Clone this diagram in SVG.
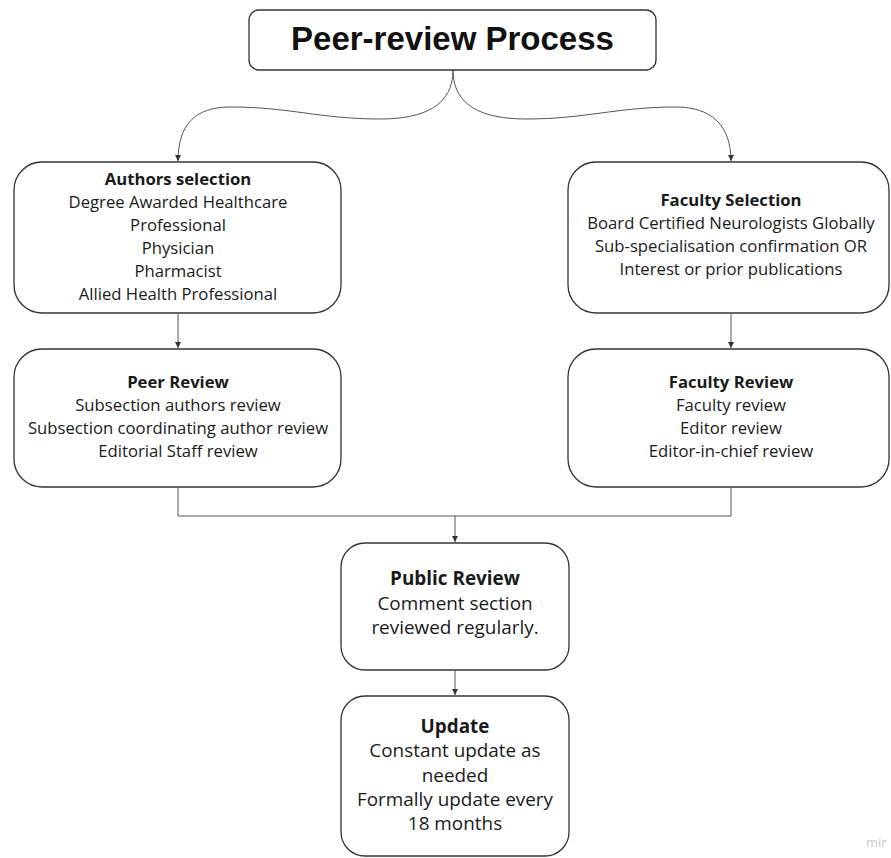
<svg xmlns="http://www.w3.org/2000/svg" width="891" height="858" viewBox="0 0 891 858">
<style>
.box{fill:#fff;stroke:#333;stroke-width:1.3}
.con{fill:none;stroke:#555;stroke-width:1}
.t{font-family:"Open Sans","Liberation Sans",sans-serif;font-size:16.7px;fill:#1a1a1a;text-anchor:middle}
.t2{font-family:"Open Sans","Liberation Sans",sans-serif;font-size:18.9px;fill:#1a1a1a;text-anchor:middle}
.b{font-weight:bold}
.title{font-family:"Liberation Sans",Arial,sans-serif;font-size:33px;font-weight:bold;fill:#111;text-anchor:middle}
</style>
<defs>
<marker id="arr" markerWidth="6" markerHeight="6" refX="6" refY="3" orient="auto" markerUnits="userSpaceOnUse">
<path d="M0,0 L6,3 L0,6 z" fill="#333"/>
</marker>
</defs>
<rect width="891" height="858" fill="#fff"/>
<g id="connectors">
<path class="con" d="M453,70 C453,105 425,119 380,119 C320,119 290,107 230,107 C195,107 178,125 178,161" marker-end="url(#arr)"/>
<path class="con" d="M453,70 C453,105 481,119 526,119 C586,119 616,107 676,107 C711,107 731,125 731,161" marker-end="url(#arr)"/>
<path class="con" d="M178,314 L178,348" marker-end="url(#arr)"/>
<path class="con" d="M731,314 L731,348" marker-end="url(#arr)"/>
<path class="con" d="M178,488 L178,516 L731,516 L731,488"/>
<path class="con" d="M455,516 L455,542" marker-end="url(#arr)"/>
<path class="con" d="M455,671 L455,695" marker-end="url(#arr)"/>
</g>
<g id="title">
<rect class="box" x="249" y="10" width="407" height="60" rx="10"/>
<text class="title" x="452.5" y="50">Peer-review Process</text>
</g>
<g id="authors-selection">
<rect class="box" x="14" y="162" width="327" height="151" rx="28"/>
<text class="t" x="178" y="185"><tspan class="b">Authors selection</tspan><tspan x="178" dy="23">Degree Awarded Healthcare</tspan><tspan x="178" dy="23">Professional</tspan><tspan x="178" dy="23">Physician</tspan><tspan x="178" dy="23">Pharmacist</tspan><tspan x="178" dy="23">Allied Health Professional</tspan></text>
</g>
<g id="faculty-selection">
<rect class="box" x="568" y="162" width="321" height="151" rx="28"/>
<text class="t" x="731" y="206"><tspan class="b">Faculty Selection</tspan><tspan x="731" dy="23">Board Certified Neurologists Globally</tspan><tspan x="731" dy="23">Sub-specialisation confirmation OR</tspan><tspan x="731" dy="23">Interest or prior publications</tspan></text>
</g>
<g id="peer-review">
<rect class="box" x="14" y="349" width="327" height="138" rx="28"/>
<text class="t" x="178" y="388"><tspan class="b">Peer Review</tspan><tspan x="178" dy="23">Subsection authors review</tspan><tspan x="178" dy="23">Subsection coordinating author review</tspan><tspan x="178" dy="23">Editorial Staff review</tspan></text>
</g>
<g id="faculty-review">
<rect class="box" x="568" y="349" width="321" height="138" rx="28"/>
<text class="t" x="731" y="388"><tspan class="b">Faculty Review</tspan><tspan x="731" dy="23">Faculty review</tspan><tspan x="731" dy="23">Editor review</tspan><tspan x="731" dy="23">Editor-in-chief review</tspan></text>
</g>
<g id="public-review">
<rect class="box" x="341" y="543" width="228" height="127" rx="24"/>
<text class="t2" x="455" y="585"><tspan class="b">Public Review</tspan><tspan x="455" dy="25">Comment section</tspan><tspan x="455" dy="24">reviewed regularly.</tspan></text>
</g>
<g id="update">
<rect class="box" x="341" y="696" width="228" height="160" rx="24"/>
<text class="t2" x="455" y="733"><tspan class="b">Update</tspan><tspan x="455" dy="24.3">Constant update as</tspan><tspan x="455" dy="24.3">needed</tspan><tspan x="455" dy="24.3">Formally update every</tspan><tspan x="455" dy="24.3">18 months</tspan></text>
</g>
<text x="866" y="847" font-family="'Open Sans',sans-serif" font-size="13" fill="#c8c8c8">mir</text>
</svg>
